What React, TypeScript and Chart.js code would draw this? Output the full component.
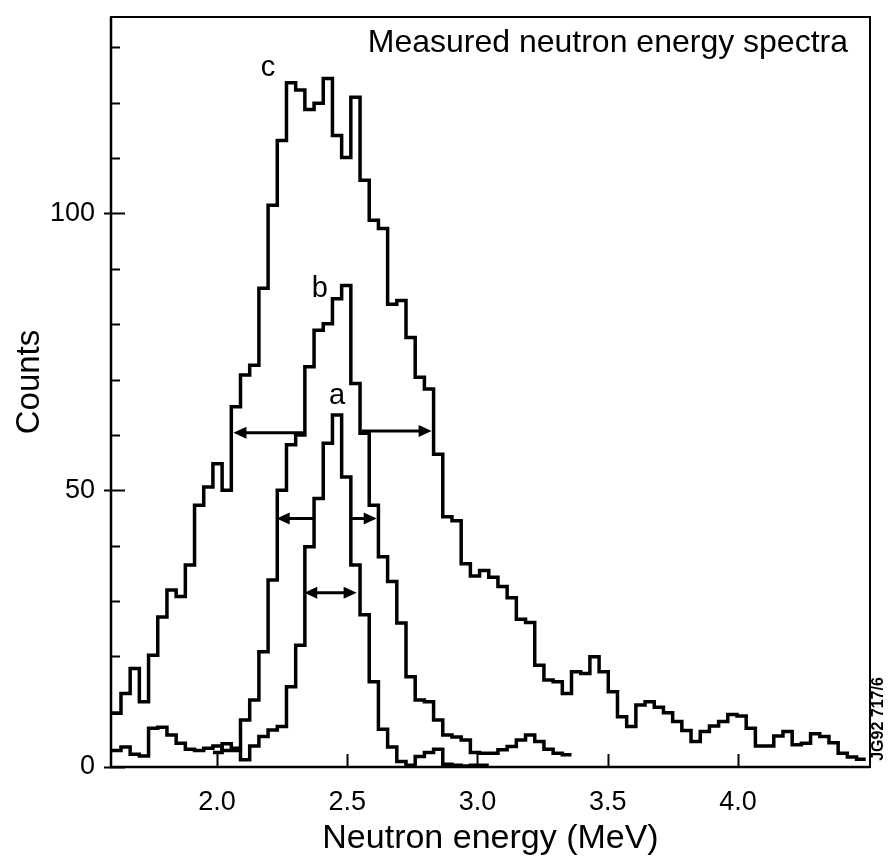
import React, { useEffect, useRef } from 'react';
import { Chart, registerables } from 'chart.js';

Chart.register(...registerables);

// ---- Histogram binning (MeV) ----
const BIN_START_MEV = 1.596;
const BIN_WIDTH_MEV = 0.0353;

// ---- Spectrum c (widest) ----
const C_FIRST_BIN = 0;
const C_COUNTS = [
  9.7, 13.3, 17.8, 11.8, 20.2, 27.1, 32.0, 30.8, 36.5, 47.3,
  50.6, 54.8, 50.0, 65.1, 70.8, 72.6, 86.5, 101.5, 113.2, 123.6,
  122.3, 118.8, 119.9, 124.4, 114.1, 110.1, 121.0, 106.0, 98.8, 97.3,
  83.6, 84.3, 77.6, 70.4, 68.3, 56.5, 45.2, 44.5, 36.7, 34.5,
  35.5, 34.3, 32.6, 30.6, 26.7, 26.1, 18.4, 15.7, 15.4, 13.3,
  17.2, 16.9, 19.9, 17.2, 13.6, 9.1, 7.3, 11.2, 11.8, 10.8,
  9.8, 8.2, 6.6, 4.6, 6.4, 7.4, 8.2, 9.5, 9.2, 7.0,
  3.8, 3.8, 5.6, 6.4, 4.0, 4.3, 6.0, 5.5, 4.4, 2.5,
  1.8, 1.4,
];

// ---- Spectrum b ----
const B_FIRST_BIN = 11;
const B_COUNTS = [
  2.6, 4.2, 3.4, 8.5, 12.1, 20.8, 33.8, 50.0, 58.2, 60.0,
  72.3, 78.9, 80.1, 84.6, 87.0, 69.3, 60.3, 47.3, 38.0, 33.5,
  26.0, 16.3, 12.1, 11.8, 8.5, 5.8, 5.4, 4.9, 2.6, 2.5,
  2.5, 3.1, 3.7, 4.9, 5.8, 4.6, 3.2, 2.5, 2.2,
];

// ---- Spectrum a (narrowest) ----
const A_FIRST_BIN = 0;
const A_COUNTS = [
  3.0, 3.6, 2.3, 2.0, 7.0, 7.2, 5.8, 4.3, 3.2, 3.0,
  3.4, 3.8, 3.0, 3.0, 1.3, 3.8, 5.5, 6.7, 7.3, 14.5,
  22.0, 39.8, 48.5, 58.5, 63.6, 52.4, 36.5, 27.5, 15.4, 6.8,
  3.6, 1.0, 0.3, 1.9, 2.6, 3.2, 0.5, 0.3, 0.2, 0.3,
  0.3,
];

// ---- Axes ----
const X_MIN = 1.593;
const X_MAX = 4.507;
const Y_MIN = 0;
const Y_MAX = 135.5;
const X_TICKS = [2.0, 2.5, 3.0, 3.5, 4.0];
const Y_TICKS = [0, 10, 20, 30, 40, 50, 60, 70, 80, 90, 100, 110, 120, 130];
const Y_LABELED_TICKS = [0, 50, 100];

// ---- Curve labels ----
const CURVE_LABELS = ['a', 'b', 'c'];
const CURVE_LABEL_X = [2.461, 2.395, 2.196];
const CURVE_LABEL_Y = [67.0, 86.3, 126.2];

// ---- FWHM arrows (energy of tail, energy of head, count level) ----
const ARROW_FROM = [2.338, 2.555, 2.370, 2.511, 2.335];
const ARROW_TO = [2.063, 2.824, 2.229, 2.613, 2.536];
const ARROW_Y = [60.4, 60.7, 44.9, 44.9, 31.5];
const ARROW_DOUBLE = [false, false, false, false, true];

const TITLE_TEXT = 'Measured neutron energy spectra';
const X_TITLE = 'Neutron energy (MeV)';
const Y_TITLE = 'Counts';
const FIGURE_ID = 'JG92 717/6';

const FONT_FAMILY = "'Liberation Sans', Arial, Helvetica, sans-serif";

function histogramPoints(firstBin: number, counts: number[]) {
  const pts = counts.map((v, i) => ({ x: BIN_START_MEV + (firstBin + i) * BIN_WIDTH_MEV, y: v }));
  pts.push({
    x: BIN_START_MEV + (firstBin + counts.length) * BIN_WIDTH_MEV,
    y: counts[counts.length - 1],
  });
  return pts;
}

function drawHead(ctx: CanvasRenderingContext2D, tipX: number, tipY: number, dir: number) {
  const len = 13;
  const half = 6;
  ctx.beginPath();
  ctx.moveTo(tipX, tipY);
  ctx.lineTo(tipX - dir * len, tipY - half);
  ctx.lineTo(tipX - dir * len, tipY + half);
  ctx.closePath();
  ctx.fill();
}

const decorPlugin = {
  id: 'decor',
  afterDatasetsDraw(chart: any) {
    const { ctx, chartArea: ca, scales } = chart;
    const xs = scales.x;
    const ys = scales.y;
    ctx.save();
    ctx.strokeStyle = '#000';
    ctx.fillStyle = '#000';

    // FWHM arrows
    ctx.lineWidth = 3;
    ctx.lineCap = 'butt';
    for (let i = 0; i < ARROW_FROM.length; i++) {
      const x1 = xs.getPixelForValue(ARROW_FROM[i]);
      const x2 = xs.getPixelForValue(ARROW_TO[i]);
      const py = ys.getPixelForValue(ARROW_Y[i]);
      const dir = Math.sign(x2 - x1);
      const start = ARROW_DOUBLE[i] ? x1 + dir * 8 : x1;
      ctx.beginPath();
      ctx.moveTo(start, py);
      ctx.lineTo(x2 - dir * 8, py);
      ctx.stroke();
      drawHead(ctx, x2, py, dir);
      if (ARROW_DOUBLE[i]) drawHead(ctx, x1, py, -dir);
    }

    // Curve labels
    ctx.font = `29px ${FONT_FAMILY}`;
    ctx.textAlign = 'center';
    ctx.textBaseline = 'middle';
    for (let i = 0; i < CURVE_LABELS.length; i++) {
      ctx.fillText(CURVE_LABELS[i], xs.getPixelForValue(CURVE_LABEL_X[i]), ys.getPixelForValue(CURVE_LABEL_Y[i]));
    }

    // Frame
    ctx.lineWidth = 2;
    ctx.strokeRect(ca.left, ca.top, ca.right - ca.left, ca.bottom - ca.top);
    ctx.lineWidth = 2.5;
    ctx.beginPath();
    ctx.moveTo(ca.left, ca.top);
    ctx.lineTo(ca.left, ca.bottom);
    ctx.lineTo(ca.right, ca.bottom);
    ctx.stroke();

    // Inward tick marks
    ctx.lineWidth = 2;
    for (const v of Y_TICKS) {
      const py = Math.round(ys.getPixelForValue(v)) + 0.5;
      const major = Y_LABELED_TICKS.includes(v);
      ctx.beginPath();
      ctx.moveTo(ca.left - (major ? 7 : 0), py);
      ctx.lineTo(ca.left + (major ? 14 : 9), py);
      ctx.stroke();
    }
    for (const v of X_TICKS) {
      const px = Math.round(xs.getPixelForValue(v)) + 0.5;
      ctx.beginPath();
      ctx.moveTo(px, ca.bottom);
      ctx.lineTo(px, ca.bottom - 13);
      ctx.stroke();
    }

    // Title inside the frame
    ctx.font = `32px ${FONT_FAMILY}`;
    ctx.textAlign = 'right';
    ctx.textBaseline = 'alphabetic';
    ctx.fillText(TITLE_TEXT, ca.right - 22, ca.top + 35);

    // Y axis title
    ctx.save();
    ctx.translate(30, 382);
    ctx.rotate(-Math.PI / 2);
    ctx.font = `33px ${FONT_FAMILY}`;
    ctx.textAlign = 'center';
    ctx.textBaseline = 'middle';
    ctx.fillText(Y_TITLE, 0, 0);
    ctx.restore();

    // Figure id, rotated at right
    ctx.save();
    ctx.translate(ca.right + 9, ca.bottom - 48);
    ctx.rotate(-Math.PI / 2);
    ctx.font = `bold 16px ${FONT_FAMILY}`;
    ctx.textAlign = 'center';
    ctx.textBaseline = 'middle';
    ctx.fillText(FIGURE_ID, 0, 0);
    ctx.restore();

    ctx.restore();
  },
};

export default function App() {
  const canvasRef = useRef<HTMLCanvasElement | null>(null);

  useEffect(() => {
    if (!canvasRef.current) return;
    Chart.defaults.font.family = FONT_FAMILY;
    const lineStyle = {
      borderColor: '#000',
      borderWidth: 3.5,
      pointRadius: 0,
      stepped: true as const,
      fill: false,
      tension: 0,
      clip: false as const,
      borderJoinStyle: 'miter' as const,
    };
    const chart = new Chart(canvasRef.current, {
      type: 'line',
      data: {
        datasets: [
          { label: 'c', data: histogramPoints(C_FIRST_BIN, C_COUNTS), ...lineStyle },
          { label: 'b', data: histogramPoints(B_FIRST_BIN, B_COUNTS), ...lineStyle },
          { label: 'a', data: histogramPoints(A_FIRST_BIN, A_COUNTS), ...lineStyle },
        ],
      },
      options: {
        responsive: false,
        animation: false,
        events: [],
        layout: { padding: { left: 0, right: 19, top: 17, bottom: 0 } },
        plugins: {
          legend: { display: false },
          tooltip: { enabled: false },
          title: { display: false },
        },
        scales: {
          x: {
            type: 'linear',
            min: X_MIN,
            max: X_MAX,
            afterBuildTicks: (s: any) => {
              s.ticks = X_TICKS.map((v) => ({ value: v }));
            },
            afterFit: (s: any) => {
              s.height = 93;
              s.paddingLeft = 0;
              s.paddingRight = 0;
            },
            grid: { display: false },
            border: { display: false },
            ticks: {
              color: '#000',
              padding: 11,
              maxRotation: 0,
              autoSkip: false,
              font: { size: 27 },
              callback: (v: any) => Number(v).toFixed(1),
            },
            title: {
              display: true,
              text: X_TITLE,
              color: '#000',
              font: { size: 34 },
              padding: { top: 0, bottom: 1 },
            },
          },
          y: {
            type: 'linear',
            min: Y_MIN,
            max: Y_MAX,
            afterBuildTicks: (s: any) => {
              s.ticks = Y_TICKS.map((v) => ({ value: v }));
            },
            afterFit: (s: any) => {
              s.width = 111;
              s.paddingTop = 0;
              s.paddingBottom = 0;
            },
            grid: { display: false },
            border: { display: false },
            ticks: {
              color: '#000',
              padding: 8,
              autoSkip: false,
              font: { size: 27 },
              callback: (v: any) => (Y_LABELED_TICKS.includes(Number(v)) ? String(v) : ''),
            },
            title: { display: false, text: Y_TITLE },
          },
        },
      },
      plugins: [decorPlugin],
    });
    return () => chart.destroy();
  }, []);

  return (
    <div style={{ position: 'absolute', left: 0, top: 0, width: 889, height: 860, background: '#fff' }}>
      <canvas ref={canvasRef} width={889} height={860} style={{ display: 'block' }} />
    </div>
  );
}
